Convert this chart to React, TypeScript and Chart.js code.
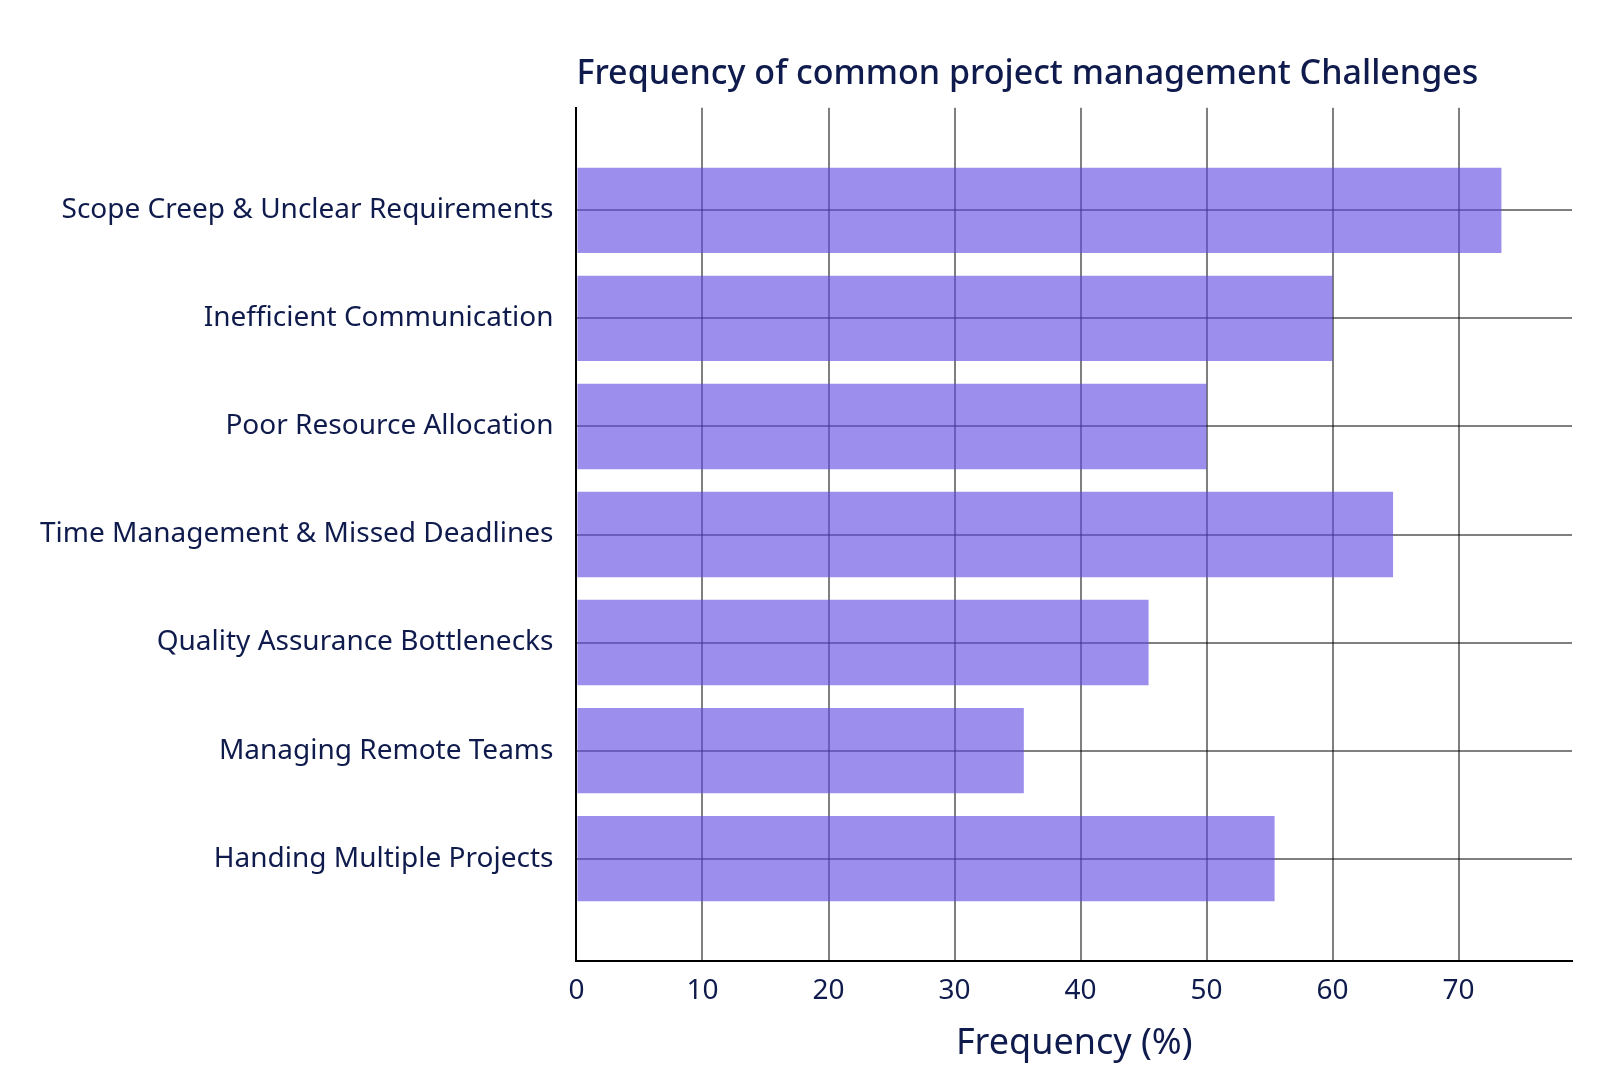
import React, { useEffect, useRef } from "react";
import { Chart, registerables } from "chart.js";

Chart.register(...registerables);

const categories: string[] = [
  "Scope Creep & Unclear Requirements",
  "Inefficient Communication",
  "Poor Resource Allocation",
  "Time Management & Missed Deadlines",
  "Quality Assurance Bottlenecks",
  "Managing Remote Teams",
  "Handing Multiple Projects",
];

const frequencies: number[] = [73.4, 60, 50, 64.8, 45.4, 35.5, 55.4];

const xTickStep = 10;
const xMax = 79;

const chartTitle = "Frequency of common project management Challenges";
const xAxisTitle = "Frequency (%)";

const TEXT = "#0f1b4c";
const GRID = "rgba(0,0,0,0.5)";
const FONT = "'Noto Sans', 'Open Sans', sans-serif";

export default function App() {
  const ref = useRef<HTMLCanvasElement | null>(null);

  useEffect(() => {
    document.body.style.margin = "0";
    const canvas = ref.current;
    if (!canvas) return;
    const chart = new Chart(canvas, {
      type: "bar",
      data: {
        datasets: [
          {
            label: "Frequency",
            data: frequencies.map((v, i) => ({ x: v, y: i })),
            backgroundColor: "rgba(94,72,225,0.62)",
            borderWidth: 0,
            barPercentage: 0.79,
            categoryPercentage: 1,
          },
        ],
      },
      options: {
        indexAxis: "y",
        animation: false,
        responsive: false,
        maintainAspectRatio: false,
        layout: { padding: { left: 17, right: 28, top: 0, bottom: 17 } },
        plugins: {
          legend: { display: false },
          tooltip: { enabled: false },
          title: {
            display: true,
            text: chartTitle,
            align: "start",
            fullSize: false,
            color: TEXT,
            font: { family: FONT, size: 34, weight: "500" },
            padding: { top: 54, bottom: 13 },
          },
        },
        scales: {
          x: {
            type: "linear",
            position: "bottom",
            min: 0,
            max: xMax,
            ticks: {
              stepSize: xTickStep,
              includeBounds: false,
              color: TEXT,
              font: { family: FONT, size: 28 },
              padding: 13,
              maxRotation: 0,
            },
            grid: { color: GRID, lineWidth: 2, drawTicks: false },
            border: { color: "#000", width: 2 },
            title: {
              display: true,
              text: xAxisTitle,
              color: TEXT,
              font: { family: FONT, size: 36 },
              padding: { top: 1, bottom: 0 },
            },
          },
          y: {
            type: "linear",
            position: "left",
            reverse: true,
            offset: false,
            min: -0.95,
            max: categories.length - 0.05,
            ticks: {
              stepSize: 1,
              includeBounds: false,
              color: TEXT,
              font: { family: FONT, size: 28 },
              padding: 23,
              callback: (v: any) => {
                const n = Number(v);
                return Number.isInteger(n) && categories[n] ? categories[n] : "";
              },
            },
            grid: { color: GRID, lineWidth: 2, drawTicks: false, offset: false },
            border: { color: "#000", width: 2 },
          },
        },
      },
    });
    return () => chart.destroy();
  }, []);

  return (
    <div style={{ width: 1600, height: 1082 }}>
      <canvas ref={ref} width={1600} height={1082} />
    </div>
  );
}
